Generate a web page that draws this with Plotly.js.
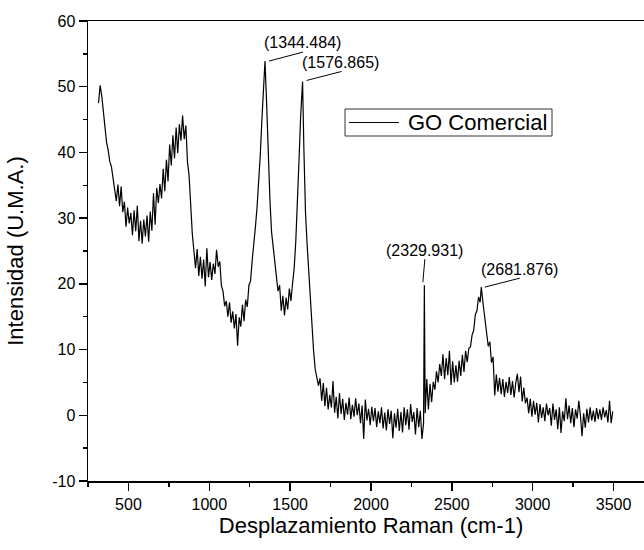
<!DOCTYPE html>
<html>
<head>
<meta charset="utf-8">
<script src="https://cdn.plot.ly/plotly-3.0.1.min.js"></script>
<style>
  html, body { margin: 0; padding: 0; overflow: hidden; background: #fff; }
  #chart { width: 670px; height: 550px; }
</style>
</head>
<body>
<div id="chart"></div>
<script>
// Raman shift (cm-1)
const ramanShift = [
  315,325,335,345,355,365,375,385,395,405,
  415,425,435,445,455,465,475,485,495,505,
  515,525,535,545,555,565,575,585,595,605,
  615,625,635,645,655,665,675,685,695,705,
  715,725,735,745,755,765,775,785,795,805,
  815,825,835,845,855,865,875,885,895,905,
  915,925,935,945,955,965,975,985,995,1005,
  1015,1025,1035,1045,1055,1065,1075,1085,1095,1105,
  1115,1125,1135,1145,1155,1165,1175,1185,1195,1205,
  1215,1225,1235,1245,1255,1265,1275,1285,1295,1305,
  1315,1325,1335,1344.484,1355,1365,1375,1385,1395,1405,
  1415,1425,1435,1445,1455,1465,1475,1485,1495,1505,
  1515,1525,1535,1545,1555,1565,1576.865,1585,1595,1605,
  1615,1625,1635,1645,1655,1665,1675,1685,1695,1705,
  1715,1725,1735,1745,1755,1765,1775,1785,1795,1805,
  1815,1825,1835,1845,1855,1865,1875,1885,1895,1905,
  1915,1925,1935,1945,1955,1965,1975,1985,1995,2005,
  2015,2025,2035,2045,2055,2065,2075,2085,2095,2105,
  2115,2125,2135,2145,2155,2165,2175,2185,2195,2205,
  2215,2225,2235,2245,2255,2265,2275,2285,2295,2305,
  2315,2325,2329.931,2335,2345,2355,2365,2375,2385,2395,2405,
  2415,2425,2435,2445,2455,2465,2475,2485,2495,2505,
  2515,2525,2535,2545,2555,2565,2575,2585,2595,2605,
  2615,2625,2635,2645,2655,2665,2675,2681.876,2695,2705,
  2715,2725,2735,2745,2755,2765,2775,2785,2795,2805,
  2815,2825,2835,2845,2855,2865,2875,2885,2895,2905,
  2915,2925,2935,2945,2955,2965,2975,2985,2995,3005,
  3015,3025,3035,3045,3055,3065,3075,3085,3095,3105,
  3115,3125,3135,3145,3155,3165,3175,3185,3195,3205,
  3215,3225,3235,3245,3255,3265,3275,3285,3295,3305,
  3315,3325,3335,3345,3355,3365,3375,3385,3395,3405,
  3415,3425,3435,3445,3455,3465,3475,3485,3495
];

// Intensity (U.M.A.)
const intensity = [
  47.5,50.2,48.6,46.0,44.2,41.5,40.3,38.6,37.8,36.2,
  34.5,32.6,35.1,31.8,34.8,30.9,32.5,28.7,31.6,29.2,
  30.8,27.4,31.2,28.0,31.9,26.5,29.6,26.1,29.8,27.2,
  30.4,26.4,31.0,28.1,33.8,29.0,34.6,32.3,35.2,33.0,
  37.5,34.1,38.9,35.6,41.2,38.0,42.6,39.1,43.8,39.9,
  44.3,41.8,45.6,42.0,44.1,38.6,36.5,31.2,27.6,25.0,
  22.4,25.3,21.2,24.1,20.8,23.7,19.6,25.4,21.0,23.3,
  20.6,23.1,21.5,25.2,22.6,23.4,19.7,18.9,16.6,17.4,
  15.0,17.2,14.1,15.8,13.2,15.4,10.6,14.9,13.5,16.8,
  14.3,17.6,16.5,19.8,20.4,23.5,26.8,28.6,31.5,35.0,
  39.5,44.8,50.6,53.9,47.2,39.2,32.8,27.9,25.5,22.8,
  21.0,18.9,19.8,15.9,18.2,15.2,17.9,16.1,19.3,17.4,
  20.1,22.4,26.5,31.8,38.9,45.5,50.8,40.5,30.8,26.0,
  22.0,17.5,12.9,9.8,7.0,5.6,4.5,5.6,2.2,4.9,
  1.4,4.2,0.9,3.1,1.2,5.2,0.4,2.8,-0.5,3.4,
  0.2,2.5,-0.7,1.9,0.1,2.7,-0.6,1.6,-0.2,2.6,
  0.0,1.8,-1.2,1.5,-3.6,2.4,-0.8,1.0,-1.5,1.3,
  -0.9,1.1,-1.8,0.6,-1.2,1.2,-2.0,0.4,-2.3,0.9,
  -1.3,0.7,-3.5,0.3,-1.9,1.0,-2.4,0.5,-2.6,1.2,
  -1.5,0.9,-2.2,1.7,-1.0,0.5,-2.9,1.1,-1.8,0.7,
  -3.6,-1.2,19.8,0.3,5.5,0.9,4.8,2.0,5.1,3.9,6.7,
  5.0,7.8,6.0,9.3,5.5,8.7,6.1,9.8,4.6,8.2,
  5.0,7.6,5.1,8.3,6.0,9.2,6.6,9.8,8.1,10.2,
  10.4,12.2,12.9,15.3,15.9,18.0,17.2,19.5,16.6,14.8,
  13.1,10.5,11.2,8.0,8.9,3.0,6.2,3.6,5.7,3.2,
  5.5,2.8,5.1,3.4,5.8,3.1,5.2,2.7,4.9,6.3,
  3.5,5.9,2.1,4.2,1.8,2.7,0.3,2.5,-0.2,2.2,
  0.1,1.9,-1.1,1.7,-0.4,1.2,-0.9,1.8,0.0,1.1,
  -1.6,1.8,-0.7,0.9,-2.1,1.2,-2.7,0.6,-0.9,2.6,
  -0.6,1.5,-1.2,1.1,-1.8,0.9,-0.5,2.2,0.0,-3.2,
  0.3,-1.9,1.0,-1.1,1.2,-0.8,0.7,-1.0,1.1,-0.6,
  0.9,-0.7,1.2,-0.3,0.8,-1.1,2.2,-1.2,0.6
];

// Labelled peaks
const peakShifts = [1344.484, 1576.865, 2329.931, 2681.876];
const peakLabels = ['(1344.484)', '(1576.865)', '(2329.931)', '(2681.876)'];

// Axis tick labels
const yTickValues = [-10, 0, 10, 20, 30, 40, 50, 60];
const yTickLabels = ['-10', '0', '10', '20', '30', '40', '50', '60'];
const xTickValues = [500, 1000, 1500, 2000, 2500, 3000, 3500];
const xTickLabels = ['500', '1000', '1500', '2000', '2500', '3000', '3500'];

const seriesName = 'GO Comercial';

const FONT = 'Liberation Sans, Arial, sans-serif';

// label placement (pixel offsets relative to the peak point)
const labelStyle = [
  {tx: 38, ty: 19, l: [4, 0, 38, 9]},
  {tx: 38, ty: 19, l: [4, 1, 39, 10]},
  {tx: 0, ty: 35, l: [-1.5, 3, 0.5, 26]},
  {tx: 38, ty: 18, l: [3.5, 0, 38.5, 9]}
];

const annotations = [];
const shapes = [];
peakShifts.forEach((px, i) => {
  const idx = ramanShift.indexOf(px);
  const py = intensity[idx];
  const st = labelStyle[i];
  annotations.push({
    x: px, y: py, xref: 'x', yref: 'y',
    text: peakLabels[i], showarrow: false,
    xshift: st.tx, yshift: st.ty,
    font: {family: FONT, size: 16, color: '#000'}
  });
  shapes.push({
    type: 'line', xref: 'x', yref: 'y',
    xsizemode: 'pixel', ysizemode: 'pixel',
    xanchor: px, yanchor: py,
    x0: st.l[0], y0: st.l[1], x1: st.l[2], y1: st.l[3],
    line: {color: '#000', width: 1}
  });
});

// Legend box drawn in paper coordinates (box, line sample, text)
shapes.push({type: 'rect', xref: 'paper', yref: 'paper', x0: 0.4541, x1: 0.8198, y0: 0.75, y1: 0.8087,
  line: {color: '#333', width: 1}, fillcolor: 'rgba(255,255,255,0)'});
shapes.push({type: 'line', xref: 'paper', yref: 'paper', x0: 0.4611, x1: 0.5495, y0: 0.7793, y1: 0.7793,
  line: {color: '#000', width: 1}});
annotations.push({xref: 'paper', yref: 'paper', x: 0.5615, y: 0.7793, xanchor: 'left', yanchor: 'middle',
  text: seriesName, showarrow: false, font: {family: FONT, size: 22, color: '#000'}});

const trace = {
  x: ramanShift, y: intensity,
  type: 'scatter', mode: 'lines',
  name: seriesName,
  line: {color: '#000', width: 1.2},
  showlegend: false
};

const layout = {
  width: 670, height: 550,
  margin: {l: 88, r: 16, t: 21, b: 69, pad: 0},
  paper_bgcolor: '#fff', plot_bgcolor: '#fff',
  font: {family: FONT, color: '#000'},
  showlegend: false,
  xaxis: {
    range: [250, 3750], showgrid: false, zeroline: false,
    showline: true, linecolor: '#000', linewidth: 1.5, mirror: true,
    tickmode: 'array', tickvals: xTickValues, ticktext: xTickLabels,
    ticks: 'outside', ticklen: 8, tickwidth: 1.5, tickcolor: '#000',
    minor: {tickmode: 'linear', tick0: 250, dtick: 250, ticks: 'outside', ticklen: 4, tickwidth: 1.5, tickcolor: '#000', showgrid: false},
    tickfont: {family: FONT, size: 16, color: '#000'},
    title: {text: 'Desplazamiento Raman (cm-1)', font: {family: FONT, size: 22, color: '#000'}, standoff: 4}
  },
  yaxis: {
    range: [-10, 60], showgrid: false, zeroline: false,
    showline: true, linecolor: '#000', linewidth: 1.5, mirror: false,
    tickmode: 'array', tickvals: yTickValues, ticktext: yTickLabels,
    ticks: 'outside', ticklen: 8, tickwidth: 1.5, tickcolor: '#000',
    minor: {tickmode: 'linear', tick0: -10, dtick: 5, ticks: 'outside', ticklen: 4, tickwidth: 1.5, tickcolor: '#000', showgrid: false},
    tickfont: {family: FONT, size: 16, color: '#000'},
    title: {text: 'Intensidad (U.M.A.)', font: {family: FONT, size: 22, color: '#000'}, standoff: 22}
  },
  annotations: annotations,
  shapes: shapes
};

Plotly.newPlot('chart', [trace], layout, {displayModeBar: false, staticPlot: true});
</script>
</body>
</html>
